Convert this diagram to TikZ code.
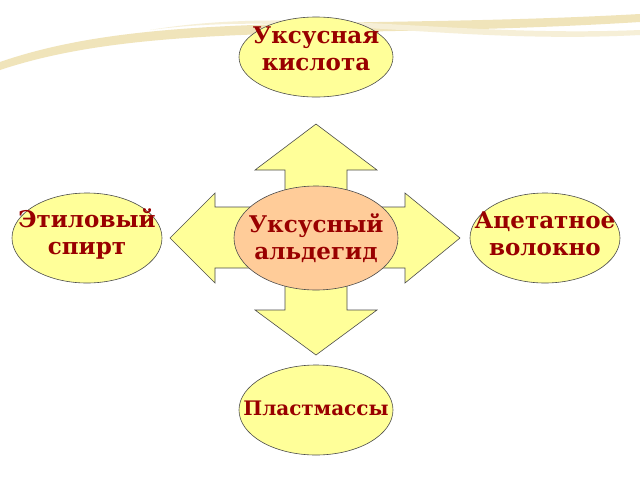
\documentclass[tikz,border=0pt]{standalone}
\usepackage{fontspec}
\setmainfont{DejaVu Serif}
\definecolor{fillY}{HTML}{FFFF99}
\definecolor{fillP}{HTML}{FFCC99}
\definecolor{txt}{HTML}{990000}
\definecolor{gold}{HTML}{E6D28C}
\usetikzlibrary{shapes.geometric}
\tikzset{
  oval/.style={ellipse, draw=black!70, line width=0.6pt, fill=fillY, inner sep=0pt},
  lbl/.style={align=center, text=txt, font=\bfseries\fontsize{23}{27}\selectfont, inner sep=0pt},
}
\begin{document}
\begin{tikzpicture}[x=1pt,y=-1pt]
\useasboundingbox (0,0) rectangle (640,480);
\fill[white] (0,0) rectangle (640,480);
% decoration
\fill[gold!60] (0,70) .. controls (150,20) and (350,40) .. (640,22) -- (640,14) .. controls (350,30) and (150,10) .. (0,62) -- cycle;
\fill[gold!35] (150,30) .. controls (300,10) and (450,45) .. (640,35) -- (640,30) .. controls (450,38) and (300,5) .. (150,30) -- cycle;
% cross of arrows
\draw[draw=black!70, line width=0.6pt, fill=fillY]
 (316,124) -- (377,170) -- (347,170) -- (347,207) -- (405,207) -- (405,193) -- (460,238)
 -- (405,283) -- (405,268) -- (347,268) -- (347,310) -- (377,310) -- (316,355)
 -- (255,310) -- (285,310) -- (285,268) -- (215,268) -- (215,283) -- (170,238)
 -- (215,193) -- (215,207) -- (285,207) -- (285,170) -- (255,170) -- cycle;
\node[oval, minimum width=154pt, minimum height=80pt] (top) at (316,57) {};
\node[oval, minimum width=150pt, minimum height=90pt] (left) at (87,238) {};
\node[oval, minimum width=150pt, minimum height=90pt] (right) at (545,238) {};
\node[oval, fill=fillP, minimum width=164pt, minimum height=104pt] (mid) at (316,238) {};
\node[oval, minimum width=154pt, minimum height=90pt] (bot) at (316,410) {};
\node[lbl] (topl) at ([yshift=8pt]top.center) {Уксусная\\кислота};
\node[lbl] (leftl) at ([yshift=4pt]left.center) {Этиловый\\спирт};
\node[lbl] (rightl) at ([yshift=4pt]right.center) {Ацетатное\\волокно};
\node[lbl] (midl) at (mid.center) {Уксусный\\альдегид};
\node[lbl, font=\bfseries\fontsize{20}{24}\selectfont] (botl) at ([yshift=2pt]bot.center) {Пластмассы};
\end{tikzpicture}
\end{document}
